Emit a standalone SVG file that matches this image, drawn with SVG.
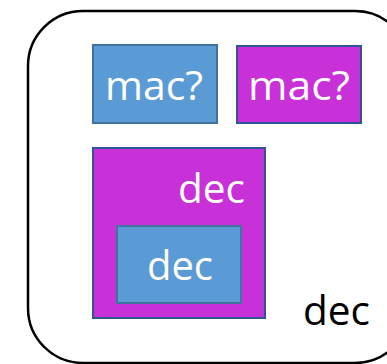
<svg xmlns="http://www.w3.org/2000/svg" width="387" height="364" viewBox="0 0 387 364">
  <style>
    .frame { fill: #ffffff; stroke: #000000; stroke-width: 2.5; }
    .blue { fill: #5B9BD5; stroke: #41719C; stroke-width: 2; }
    .magenta { fill: #C830D8; stroke: #2F5597; stroke-width: 2; }
    .label { font-family: "Open Sans", "Liberation Sans", Arial, sans-serif; font-size: 40px; fill: #ffffff; }
    .label-dark { font-family: "Open Sans", "Liberation Sans", Arial, sans-serif; font-size: 40px; fill: #000000; }
  </style>
  <rect width="387" height="364" fill="#ffffff"/>
  <g id="outer">
    <rect class="frame" x="28" y="11" width="382" height="352" rx="55" ry="55"/>
    <text class="label-dark" x="303" y="325" textLength="67" lengthAdjust="spacingAndGlyphs">dec</text>
  </g>
  <g id="mac-blue">
    <rect class="blue" x="93" y="45" width="124" height="78"/>
    <text class="label" x="105" y="100" textLength="98" lengthAdjust="spacingAndGlyphs">mac?</text>
  </g>
  <g id="mac-magenta">
    <rect class="magenta" x="237" y="46" width="124" height="77"/>
    <text class="label" x="248" y="100" textLength="102" lengthAdjust="spacingAndGlyphs">mac?</text>
  </g>
  <g id="dec-outer">
    <rect class="magenta" x="93" y="148" width="172" height="170"/>
    <text class="label" x="178" y="203" textLength="67" lengthAdjust="spacingAndGlyphs">dec</text>
  </g>
  <g id="dec-inner">
    <rect class="blue" x="117" y="226" width="124" height="77"/>
    <text class="label" x="147" y="280" textLength="66" lengthAdjust="spacingAndGlyphs">dec</text>
  </g>
  <g id="connectors"></g>
</svg>
